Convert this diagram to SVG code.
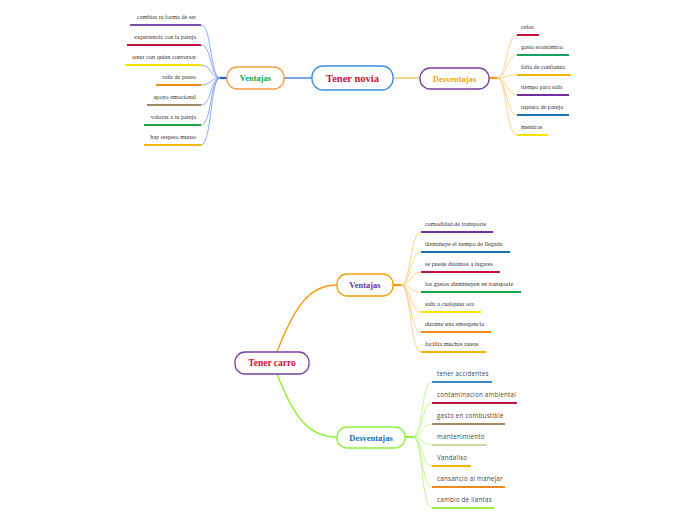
<svg xmlns="http://www.w3.org/2000/svg" width="696" height="520" viewBox="0 0 696 520">
<style>
.node{fill:#fff;stroke-width:1.3}
.lbl{font-family:"Liberation Serif",serif;font-weight:bold;text-anchor:middle}
.it{font-family:"Liberation Serif",serif;font-size:6.2px;fill:#333}
.its{font-family:"Open Sans","DejaVu Sans",sans-serif;font-size:6.2px;fill:#444;letter-spacing:0.25px}
.ul{stroke-width:2;fill:none}
.c{fill:none;stroke-width:0.8}
</style>
<rect width="696" height="520" fill="#fff"/>
<g id="connectors">
  <path d="M284,78 L312,78" stroke="#3d7be0" stroke-width="1.4" fill="none"/>
  <path d="M393,78 L420,78" stroke="#f5b04a" stroke-width="1.2" fill="none"/>
  <path d="M227,78 L220,78" stroke="#1a5ae8" stroke-width="2.2" fill="none"/>
  <g stroke="#6f95f5" class="c">
    <path d="M220,78 C210,78 212,25 201,25"/>
    <path d="M220,78 C210,78 212,45 201,45"/>
    <path d="M220,78 C210,78 212,65 201,65"/>
    <path d="M220,78 C210,78 212,85 201,85"/>
    <path d="M220,78 C210,78 212,105 201,105"/>
    <path d="M220,78 C210,78 212,125 201,125"/>
    <path d="M220,78 C210,78 212,145 201,145"/>
  </g>
  <path d="M489,78 L497,78" stroke="#f59a10" stroke-width="2.2" fill="none"/>
  <g stroke="#fcc870" class="c">
    <path d="M497,78 C507,78 506,35 517,35"/>
    <path d="M497,78 C507,78 506,55 517,55"/>
    <path d="M497,78 C507,78 506,75 517,75"/>
    <path d="M497,78 C507,78 506,95 517,95"/>
    <path d="M497,78 C507,78 506,115 517,115"/>
    <path d="M497,78 C507,78 506,135 517,135"/>
  </g>
  <path d="M277,352 C295,305 310,285 337,285" stroke="#f59a10" stroke-width="1.5" fill="none"/>
  <path d="M277,374 C295,420 310,437 337,437" stroke="#8ef03a" stroke-width="1.5" fill="none"/>
  <path d="M393,285 L401,285" stroke="#f59a10" stroke-width="2.2" fill="none"/>
  <g stroke="#fcc870" class="c">
    <path d="M401,285 C411,285 410,232 421,232"/>
    <path d="M401,285 C411,285 410,252 421,252"/>
    <path d="M401,285 C411,285 410,272 421,272"/>
    <path d="M401,285 C411,285 410,292 421,292"/>
    <path d="M401,285 C411,285 410,312 421,312"/>
    <path d="M401,285 C411,285 410,332 421,332"/>
    <path d="M401,285 C411,285 410,352 421,352"/>
  </g>
  <path d="M405,437 L413,437" stroke="#8ef03a" stroke-width="2.2" fill="none"/>
  <g stroke="#b4f57a" class="c">
    <path d="M413,437 C423,437 421,382 432,382"/>
    <path d="M413,437 C423,437 421,403 432,403"/>
    <path d="M413,437 C423,437 421,424 432,424"/>
    <path d="M413,437 C423,437 421,445 432,445"/>
    <path d="M413,437 C423,437 421,466 432,466"/>
    <path d="M413,437 C423,437 421,487 432,487"/>
    <path d="M413,437 C423,437 421,508 432,508"/>
  </g>
</g>
<g id="tener-novia">
  <rect class="node" x="312" y="66" width="81" height="24" rx="11" stroke="#3a8fd6"/>
  <text class="lbl" x="352.5" y="82" font-size="10.5" fill="#c8143c">Tener novia</text>
</g>
<g id="ventajas-novia">
  <rect class="node" x="227" y="67" width="57" height="22" rx="10" stroke="#f5a040"/>
  <text class="lbl" x="255.5" y="81" font-size="8.5" fill="#1aa84a">Ventajas</text>
</g>
<g id="desventajas-novia">
  <rect class="node" x="420" y="68" width="69" height="21" rx="10" stroke="#7a3fa0"/>
  <text class="lbl" x="454.5" y="81.5" font-size="8.5" fill="#f5a800">Desventajas</text>
</g>
<g id="v1"><text class="it" x="196" y="19" text-anchor="end">cambias tu forma de ser</text><path class="ul" d="M130,25 H201" stroke="#7a4fa8"/></g>
<g id="v2"><text class="it" x="196" y="39" text-anchor="end">experiencia con la pareja</text><path class="ul" d="M127,45 H201" stroke="#c0143c"/></g>
<g id="v3"><text class="it" x="196" y="59" text-anchor="end">tener con quien conversar</text><path class="ul" d="M125,65 H201" stroke="#f5e000"/></g>
<g id="v4"><text class="it" x="196" y="79" text-anchor="end">salir de paseo</text><path class="ul" d="M156,85 H201" stroke="#f08a1c"/></g>
<g id="v5"><text class="it" x="196" y="99" text-anchor="end">apoyo emocional</text><path class="ul" d="M147,105 H201" stroke="#a08c64"/></g>
<g id="v6"><text class="it" x="196" y="119" text-anchor="end">valoras a tu pareja</text><path class="ul" d="M144,125 H201" stroke="#1aa84a"/></g>
<g id="v7"><text class="it" x="196" y="139" text-anchor="end">hay respeto mutuo</text><path class="ul" d="M144,145 H201" stroke="#f5b800"/></g>
<g id="d1"><text class="it" x="521" y="29">celos</text><path class="ul" d="M517,35 H539" stroke="#c0143c"/></g>
<g id="d2"><text class="it" x="521" y="49">gasto económico</text><path class="ul" d="M517,55 H569" stroke="#1aa060"/></g>
<g id="d3"><text class="it" x="521" y="69">falta de confianza</text><path class="ul" d="M517,75 H571" stroke="#f5b400"/></g>
<g id="d4"><text class="it" x="521" y="89">tiempo para salir</text><path class="ul" d="M517,95 H569" stroke="#7030a0"/></g>
<g id="d5"><text class="it" x="521" y="109">ruptura de pareja</text><path class="ul" d="M517,115 H569" stroke="#1a73b8"/></g>
<g id="d6"><text class="it" x="521" y="129">mentiras</text><path class="ul" d="M517,135 H548" stroke="#f5e400"/></g>
<g id="tener-carro">
  <rect class="node" x="235" y="352" width="74" height="22" rx="10" stroke="#7a3fa0"/>
  <text class="lbl" x="272" y="366" font-size="9.5" fill="#c8143c">Tener carro</text>
</g>
<g id="ventajas-carro">
  <rect class="node" x="337" y="274" width="56" height="22" rx="10" stroke="#f5a000"/>
  <text class="lbl" x="365" y="288" font-size="8.5" fill="#7030a0">Ventajas</text>
</g>
<g id="desventajas-carro">
  <rect class="node" x="337" y="427" width="68" height="21" rx="10" stroke="#8ef03a"/>
  <text class="lbl" x="371" y="440.5" font-size="8.5" fill="#1a6fb0">Desventajas</text>
</g>
<g id="cv1"><text class="it" x="425" y="226">comodidad de transporte</text><path class="ul" d="M421,232 H493" stroke="#7030a0"/></g>
<g id="cv2"><text class="it" x="425" y="246">disminuye el tiempo de llegada</text><path class="ul" d="M421,252 H510" stroke="#1a6fa8"/></g>
<g id="cv3"><text class="it" x="425" y="266">se puede distintos a lugares</text><path class="ul" d="M421,272 H500" stroke="#c0143c"/></g>
<g id="cv4"><text class="it" x="425" y="286">los gastos disminuyen en transporte</text><path class="ul" d="M421,292 H521" stroke="#1aa84a"/></g>
<g id="cv5"><text class="it" x="425" y="306">salir a cualquier ora</text><path class="ul" d="M421,312 H481" stroke="#f5e400"/></g>
<g id="cv6"><text class="it" x="425" y="326">durante una emergencia</text><path class="ul" d="M421,332 H491" stroke="#f08a1c"/></g>
<g id="cv7"><text class="it" x="425" y="346">facilita muchas tareas</text><path class="ul" d="M421,352 H486" stroke="#f5b400"/></g>
<g id="cd1"><text class="its" x="437" y="376">tener accidentes</text><path class="ul" d="M432,382 H492" stroke="#3a8cc0"/></g>
<g id="cd2"><text class="its" x="437" y="397">contaminacion ambiental</text><path class="ul" d="M432,403 H517" stroke="#c0143c"/></g>
<g id="cd3"><text class="its" x="437" y="418">gasto en combustible</text><path class="ul" d="M432,424 H505" stroke="#a08c64"/></g>
<g id="cd4"><text class="its" x="437" y="439">mantenimiento</text><path class="ul" d="M432,445 H487" stroke="#c8dca0"/></g>
<g id="cd5"><text class="its" x="437" y="460">Vandaliso</text><path class="ul" d="M432,466 H471" stroke="#f5b400"/></g>
<g id="cd6"><text class="its" x="437" y="481">cansancio al manejar</text><path class="ul" d="M432,487 H505" stroke="#f08a1c"/></g>
<g id="cd7"><text class="its" x="437" y="502">cambio de llantas</text><path class="ul" d="M432,508 H494" stroke="#9af040"/></g>
</svg>
